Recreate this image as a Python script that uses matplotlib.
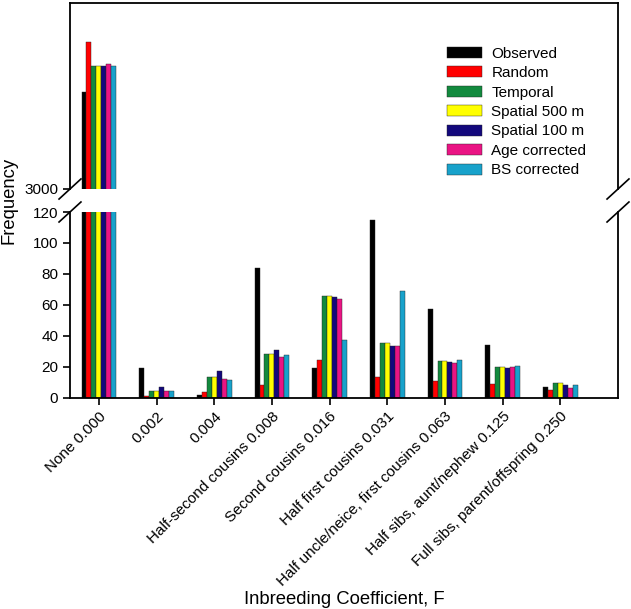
import numpy as np
import matplotlib.pyplot as plt
from matplotlib.patches import Patch

plt.rcParams['font.family'] = ['Liberation Sans', 'DejaVu Sans']

# categories (x axis)
categories = ['None 0.000', '0.002', '0.004', 'Half-second cousins 0.008',
              'Second cousins 0.016', 'Half first cousins 0.031',
              'Half uncle/neice, first cousins 0.063',
              'Half sibs, aunt/nephew 0.125',
              'Full sibs, parent/offspring 0.250']

series = ['Observed', 'Random', 'Temporal', 'Spatial 500 m',
          'Spatial 100 m', 'Age corrected', 'BS corrected']
colors = ['#000000', '#ff0000', '#128a3e', '#ffff00', '#13087c', '#ea1484', '#18a2cb']

observed = [3624, 19, 1.5, 84, 19, 115, 57, 34, 7]
random_ = [3946, 1, 3.6, 8, 24, 13, 10.5, 9, 5]
temporal = [3792, 4.5, 13, 28, 65.5, 35.5, 23.6, 19.7, 9.2]
spatial500 = [3792, 4.5, 13, 28, 65.5, 35.5, 23.6, 19.7, 9.2]
spatial100 = [3792, 6.5, 17.3, 30.5, 65, 33, 22.8, 19, 8]
age_corr = [3808, 4.5, 12, 26.3, 63.5, 33, 22, 19.5, 6.3]
bs_corr = [3792, 4.5, 11.3, 27.4, 37, 68.8, 24, 20.5, 8.2]
values = [observed, random_, temporal, spatial500, spatial100, age_corr, bs_corr]

fig = plt.figure(figsize=(6.31, 6.09), dpi=100)
W, H = 631, 609
left, right = 70 / W, 618 / W
ax_top = fig.add_axes([left, 1 - 189 / H, right - left, 186 / H])
ax_bot = fig.add_axes([left, 1 - 397.5 / H, right - left, 185.5 / H])

x = np.arange(len(categories))
bw = 0.6 / len(series)
for i, (s, c, v) in enumerate(zip(series, colors, values)):
    pos = x - 0.3 + bw * (i + 0.5)
    for ax in (ax_top, ax_bot):
        ax.bar(pos, v, width=bw, color=c, edgecolor='#222222', linewidth=0.3, label=s)

for ax in (ax_top, ax_bot):
    ax.set_xlim(-0.5, 9.0)
    for sp in ax.spines.values():
        sp.set_linewidth(1.3)
    ax.tick_params(axis='both', direction='out', length=5, width=1.2, labelsize=11)

ax_top.set_ylim(3000, 4200)
ax_top.set_yticks([3000])
ax_top.set_xticks([])
ax_top.spines['bottom'].set_visible(False)

ax_bot.set_ylim(0, 120)
ax_bot.set_yticks(range(0, 121, 20))
ax_bot.spines['top'].set_visible(False)
ax_bot.set_xticks(x)
ax_bot.set_xticklabels(categories, rotation=45, ha='right', va='top',
                       rotation_mode='anchor', fontsize=11)

# break marks
dx, dy = 0.02, 0.054
kw = dict(color='k', lw=1.2, clip_on=False)
for xx in (0, 1):
    ax_top.plot([xx - dx, xx + dx], [-dy, dy], transform=ax_top.transAxes, **kw)
    ax_bot.plot([xx - dx, xx + dx], [1 - dy, 1 + dy], transform=ax_bot.transAxes, **kw)

handles = [Patch(facecolor=c, edgecolor='#222222', linewidth=0.3) for c in colors]
fig.legend(handles, series, loc='upper left', bbox_to_anchor=(447 / W, 1 - 46.5 / H),
           frameon=False, fontsize=11, handlelength=2.3, handleheight=0.75,
           labelspacing=0.36, handletextpad=0.6, borderpad=0, borderaxespad=0)

fig.text(9 / W, 1 - 200 / H, 'Frequency', rotation=90, ha='center', va='center', fontsize=13.3)
fig.text(344 / W, 1 - 600 / H, 'Inbreeding Coefficient, F', ha='center', va='center', fontsize=13.3)

fig.savefig('out.png', dpi=100)
